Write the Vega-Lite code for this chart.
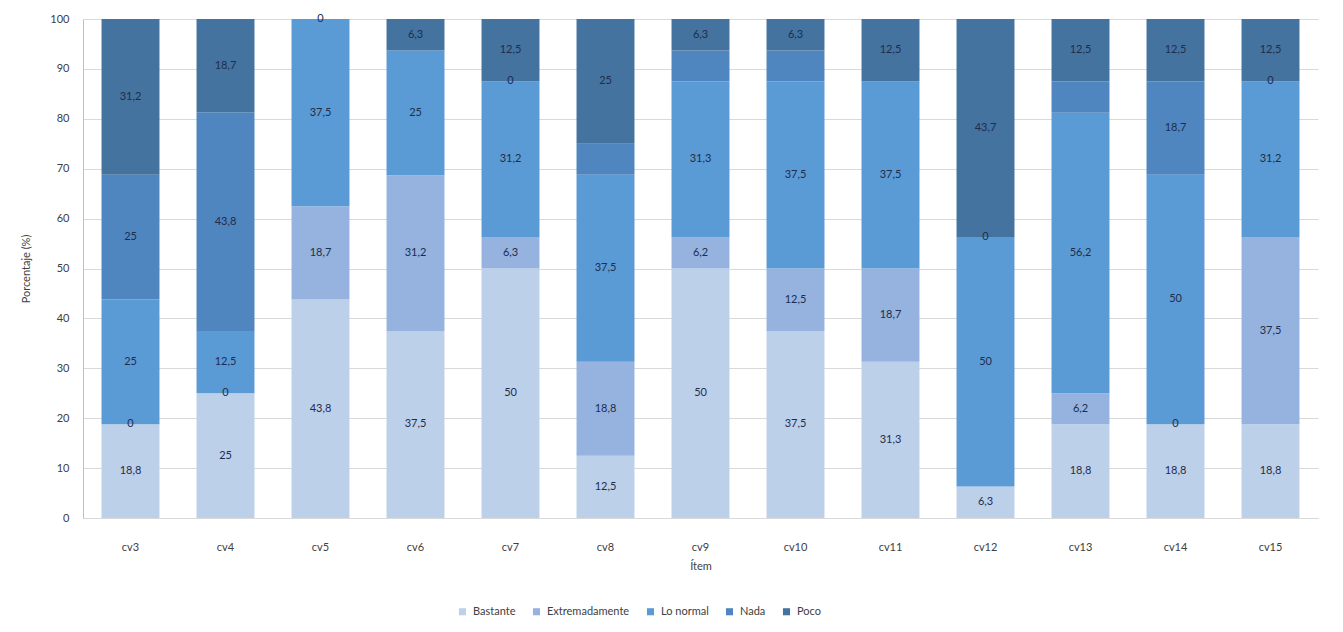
{
  "$schema": "https://vega.github.io/schema/vega-lite/v6.json",
  "autosize": "none",
  "width": 1235,
  "height": 499,
  "padding": {"left": 83, "top": 19, "right": 25, "bottom": 114},
  "background": "white",
  "config": {
    "font": "Lato",
    "view": {"stroke": null},
    "axis": {"labelFont": "Lato", "titleFont": "Lato", "labelColor": "#404040", "titleColor": "#404040", "labelFontSize": 11, "titleFontSize": 11, "titleFontWeight": "normal"}
  },
  "data": {"values": [
    {"item": "cv3", "cat": "Bastante", "value": 18.8, "label": "18,8"},
    {"item": "cv3", "cat": "Extremadamente", "value": 0, "label": "0"},
    {"item": "cv3", "cat": "Lo normal", "value": 25, "label": "25"},
    {"item": "cv3", "cat": "Nada", "value": 25, "label": "25"},
    {"item": "cv3", "cat": "Poco", "value": 31.2, "label": "31,2"},
    {"item": "cv4", "cat": "Bastante", "value": 25, "label": "25"},
    {"item": "cv4", "cat": "Extremadamente", "value": 0, "label": "0"},
    {"item": "cv4", "cat": "Lo normal", "value": 12.5, "label": "12,5"},
    {"item": "cv4", "cat": "Nada", "value": 43.8, "label": "43,8"},
    {"item": "cv4", "cat": "Poco", "value": 18.7, "label": "18,7"},
    {"item": "cv5", "cat": "Bastante", "value": 43.8, "label": "43,8"},
    {"item": "cv5", "cat": "Extremadamente", "value": 18.7, "label": "18,7"},
    {"item": "cv5", "cat": "Lo normal", "value": 37.5, "label": "37,5"},
    {"item": "cv5", "cat": "Nada", "value": 0, "label": "0"},
    {"item": "cv5", "cat": "Poco", "value": 0, "label": ""},
    {"item": "cv6", "cat": "Bastante", "value": 37.5, "label": "37,5"},
    {"item": "cv6", "cat": "Extremadamente", "value": 31.2, "label": "31,2"},
    {"item": "cv6", "cat": "Lo normal", "value": 25, "label": "25"},
    {"item": "cv6", "cat": "Nada", "value": 0, "label": ""},
    {"item": "cv6", "cat": "Poco", "value": 6.3, "label": "6,3"},
    {"item": "cv7", "cat": "Bastante", "value": 50, "label": "50"},
    {"item": "cv7", "cat": "Extremadamente", "value": 6.3, "label": "6,3"},
    {"item": "cv7", "cat": "Lo normal", "value": 31.2, "label": "31,2"},
    {"item": "cv7", "cat": "Nada", "value": 0, "label": "0"},
    {"item": "cv7", "cat": "Poco", "value": 12.5, "label": "12,5"},
    {"item": "cv8", "cat": "Bastante", "value": 12.5, "label": "12,5"},
    {"item": "cv8", "cat": "Extremadamente", "value": 18.8, "label": "18,8"},
    {"item": "cv8", "cat": "Lo normal", "value": 37.5, "label": "37,5"},
    {"item": "cv8", "cat": "Nada", "value": 6.2, "label": ""},
    {"item": "cv8", "cat": "Poco", "value": 25, "label": "25"},
    {"item": "cv9", "cat": "Bastante", "value": 50, "label": "50"},
    {"item": "cv9", "cat": "Extremadamente", "value": 6.2, "label": "6,2"},
    {"item": "cv9", "cat": "Lo normal", "value": 31.3, "label": "31,3"},
    {"item": "cv9", "cat": "Nada", "value": 6.2, "label": ""},
    {"item": "cv9", "cat": "Poco", "value": 6.3, "label": "6,3"},
    {"item": "cv10", "cat": "Bastante", "value": 37.5, "label": "37,5"},
    {"item": "cv10", "cat": "Extremadamente", "value": 12.5, "label": "12,5"},
    {"item": "cv10", "cat": "Lo normal", "value": 37.5, "label": "37,5"},
    {"item": "cv10", "cat": "Nada", "value": 6.2, "label": ""},
    {"item": "cv10", "cat": "Poco", "value": 6.3, "label": "6,3"},
    {"item": "cv11", "cat": "Bastante", "value": 31.3, "label": "31,3"},
    {"item": "cv11", "cat": "Extremadamente", "value": 18.7, "label": "18,7"},
    {"item": "cv11", "cat": "Lo normal", "value": 37.5, "label": "37,5"},
    {"item": "cv11", "cat": "Nada", "value": 0, "label": ""},
    {"item": "cv11", "cat": "Poco", "value": 12.5, "label": "12,5"},
    {"item": "cv12", "cat": "Bastante", "value": 6.3, "label": "6,3"},
    {"item": "cv12", "cat": "Extremadamente", "value": 0, "label": ""},
    {"item": "cv12", "cat": "Lo normal", "value": 50, "label": "50"},
    {"item": "cv12", "cat": "Nada", "value": 0, "label": "0"},
    {"item": "cv12", "cat": "Poco", "value": 43.7, "label": "43,7"},
    {"item": "cv13", "cat": "Bastante", "value": 18.8, "label": "18,8"},
    {"item": "cv13", "cat": "Extremadamente", "value": 6.2, "label": "6,2"},
    {"item": "cv13", "cat": "Lo normal", "value": 56.2, "label": "56,2"},
    {"item": "cv13", "cat": "Nada", "value": 6.3, "label": ""},
    {"item": "cv13", "cat": "Poco", "value": 12.5, "label": "12,5"},
    {"item": "cv14", "cat": "Bastante", "value": 18.8, "label": "18,8"},
    {"item": "cv14", "cat": "Extremadamente", "value": 0, "label": "0"},
    {"item": "cv14", "cat": "Lo normal", "value": 50, "label": "50"},
    {"item": "cv14", "cat": "Nada", "value": 18.7, "label": "18,7"},
    {"item": "cv14", "cat": "Poco", "value": 12.5, "label": "12,5"},
    {"item": "cv15", "cat": "Bastante", "value": 18.8, "label": "18,8"},
    {"item": "cv15", "cat": "Extremadamente", "value": 37.5, "label": "37,5"},
    {"item": "cv15", "cat": "Lo normal", "value": 31.2, "label": "31,2"},
    {"item": "cv15", "cat": "Nada", "value": 0, "label": "0"},
    {"item": "cv15", "cat": "Poco", "value": 12.5, "label": "12,5"}
  ]},
  "transform": [
    {"calculate": "indexof(['Bastante','Extremadamente','Lo normal','Nada','Poco'], datum.cat)", "as": "ord"},
    {"stack": "value", "groupby": ["item"], "sort": [{"field": "ord", "order": "ascending"}], "as": ["y0", "y1"]},
    {"calculate": "(datum.y0 + datum.y1) / 2", "as": "ymid"}
  ],
  "encoding": {
    "x": {
      "field": "item", "type": "nominal",
      "sort": ["cv3","cv4","cv5","cv6","cv7","cv8","cv9","cv10","cv11","cv12","cv13","cv14","cv15"],
      "scale": {"paddingInner": 0.39, "paddingOuter": 0.195},
      "axis": {"title": "Ítem", "labelAngle": 0, "ticks": false, "labelPadding": 23, "titlePadding": 8, "domainColor": "#d9d9d9", "labelFontSize": 11}
    }
  },
  "layer": [
    {
      "mark": {"type": "bar"},
      "encoding": {
        "y": {"field": "y1", "type": "quantitative", "scale": {"domain": [0, 100]},
          "axis": {"title": "Porcentaje (%)", "values": [0,10,20,30,40,50,60,70,80,90,100], "tickCount": 11, "ticks": false, "labelPadding": 14, "titlePadding": 18, "gridColor": "#d9d9d9", "domainColor": "#bfbfbf"}},
        "y2": {"field": "y0"},
        "color": {
          "field": "cat", "type": "nominal",
          "scale": {"domain": ["Bastante","Extremadamente","Lo normal","Nada","Poco"], "range": ["#bdd0ea","#95b3de","#5b9bd5","#4f86bf","#44739f"]},
          "legend": {"title": null, "orient": "none", "direction": "horizontal", "legendX": 374, "legendY": 587, "symbolType": "square", "symbolSize": 50, "symbolStrokeWidth": 0, "labelFontSize": 11, "labelColor": "#404040", "labelFont": "Lato", "columnPadding": 15, "labelOffset": 5}
        }
      }
    },
    {
      "mark": {"type": "text", "fontSize": 11, "color": "#1f2d4d", "baseline": "middle"},
      "encoding": {
        "y": {"field": "ymid", "type": "quantitative",
          "axis": {"title": "Porcentaje (%)", "values": [0,10,20,30,40,50,60,70,80,90,100], "tickCount": 11, "ticks": false, "labelPadding": 14, "titlePadding": 18, "gridColor": "#d9d9d9", "domainColor": "#bfbfbf"}},
        "text": {"field": "label"}
      }
    }
  ]
}
